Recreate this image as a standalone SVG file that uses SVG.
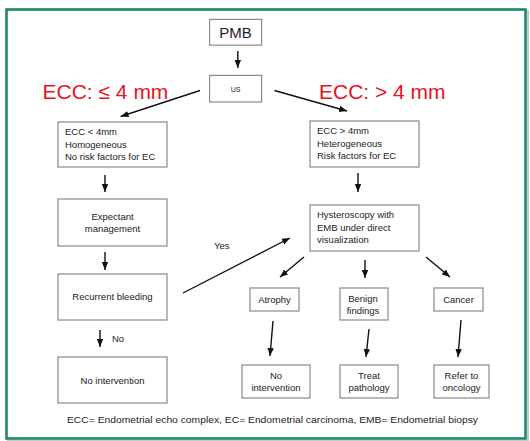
<svg xmlns="http://www.w3.org/2000/svg" width="530" height="441" viewBox="0 0 530 441">
<style>
.box{fill:#fff;stroke:#8a8a8a;stroke-width:1.2}
.t{font-family:"Liberation Sans",Arial,sans-serif;font-size:9.5px;fill:#222}
.c{text-anchor:middle}
.red{font-family:"Liberation Sans",Arial,sans-serif;font-size:21px;fill:#e8141c}
.ln{stroke:#111;stroke-width:1.4;fill:none;marker-end:url(#ah)}
</style>
<defs>
<marker id="ah" markerUnits="userSpaceOnUse" markerWidth="8" markerHeight="8" viewBox="0 0 8 8" refX="8" refY="4" orient="auto">
<path d="M0,0.8 L8,4 L0,7.2 Z" fill="#111"/>
</marker>
</defs>
<rect x="0" y="0" width="530" height="441" fill="#fff"/>
<rect x="8" y="11" width="520" height="430" fill="none" stroke="#c8c8c8" stroke-width="2"/>
<rect x="6.5" y="9.5" width="519" height="429" fill="#fff" stroke="#1a8a70" stroke-width="2.6"/>

<g id="connectors">
<line class="ln" x1="237.8" y1="51" x2="237.8" y2="68"/>
<line class="ln" x1="200" y1="90.5" x2="120.6" y2="116.5"/>
<line class="ln" x1="274.5" y1="90.5" x2="347" y2="111"/>
<line class="ln" x1="105" y1="175" x2="105" y2="192"/>
<line class="ln" x1="105" y1="252" x2="105" y2="270"/>
<line class="ln" x1="100" y1="330" x2="100" y2="347"/>
<line class="ln" x1="183" y1="293" x2="290" y2="238"/>
<line class="ln" x1="358" y1="173" x2="358" y2="192"/>
<line class="ln" x1="304" y1="257" x2="280" y2="277"/>
<line class="ln" x1="365" y1="260" x2="365" y2="278"/>
<line class="ln" x1="426" y1="257" x2="450" y2="277"/>
<line class="ln" x1="273" y1="321" x2="270" y2="356"/>
<line class="ln" x1="369" y1="329" x2="366" y2="357"/>
<line class="ln" x1="461" y1="320" x2="458" y2="357"/>
<text class="t" x="214" y="249">Yes</text>
<text class="t" x="112" y="342">No</text>
</g>

<text class="red" x="42.5" y="98.5">ECC: ≤ 4 mm</text>
<text class="red" x="319" y="98.5">ECC: &gt; 4 mm</text>

<g id="pmb"><rect class="box" x="209.6" y="19.4" width="52" height="25.8"/><text class="t c" x="235.6" y="38" style="font-size:15px">PMB</text></g>
<g id="us"><rect class="box" x="209.6" y="75.4" width="52" height="26.6"/><text class="t c" x="235.6" y="91.5" style="font-size:7px">US</text></g>

<g id="left1"><rect class="box" x="58" y="122" width="109" height="45"/>
<text class="t" x="65" y="135">ECC &lt; 4mm</text>
<text class="t" x="65" y="147.5">Homogeneous</text>
<text class="t" x="65" y="160">No risk  factors for EC</text></g>

<g id="expectant"><rect class="box" x="58" y="199" width="109" height="47"/>
<text class="t c" x="112.5" y="220">Expectant</text>
<text class="t c" x="112.5" y="232">management</text></g>

<g id="recurrent"><rect class="box" x="58" y="274" width="109" height="46"/>
<text class="t c" x="112.5" y="300">Recurrent bleeding</text></g>

<g id="nointerv1"><rect class="box" x="58" y="357" width="109" height="46"/>
<text class="t c" x="112.5" y="384">No intervention</text></g>

<g id="right1"><rect class="box" x="310" y="121" width="109" height="46"/>
<text class="t" x="317" y="134">ECC &gt; 4mm</text>
<text class="t" x="317" y="146.5">Heterogeneous</text>
<text class="t" x="317" y="159">Risk factors for EC</text></g>

<g id="hysteroscopy"><rect class="box" x="310" y="205" width="109" height="46"/>
<text class="t" x="317" y="218">Hysteroscopy with</text>
<text class="t" x="317" y="230.5">EMB under direct</text>
<text class="t" x="317" y="243">visualization</text></g>

<g id="atrophy"><rect class="box" x="250" y="288" width="49" height="23"/>
<text class="t c" x="274.5" y="303">Atrophy</text></g>

<g id="benign"><rect class="box" x="340" y="288" width="48" height="32"/>
<text class="t c" x="363" y="301.5">Benign</text>
<text class="t c" x="363" y="313.5">findings</text></g>

<g id="cancer"><rect class="box" x="434" y="288" width="49" height="23"/>
<text class="t c" x="458.5" y="303">Cancer</text></g>

<g id="nointerv2"><rect class="box" x="242" y="365" width="68" height="33"/>
<text class="t c" x="276" y="378.5">No</text>
<text class="t c" x="276" y="391">intervention</text></g>

<g id="treat"><rect class="box" x="340" y="365" width="58" height="33"/>
<text class="t c" x="369" y="378.5">Treat</text>
<text class="t c" x="369" y="391">pathology</text></g>

<g id="refer"><rect class="box" x="434" y="365" width="55" height="33"/>
<text class="t c" x="461.5" y="378.5">Refer to</text>
<text class="t c" x="461.5" y="391">oncology</text></g>

<text class="t" x="67" y="423" textLength="411" lengthAdjust="spacingAndGlyphs">ECC= Endometrial echo complex, EC= Endometrial carcinoma, EMB= Endometrial biopsy</text>
</svg>
